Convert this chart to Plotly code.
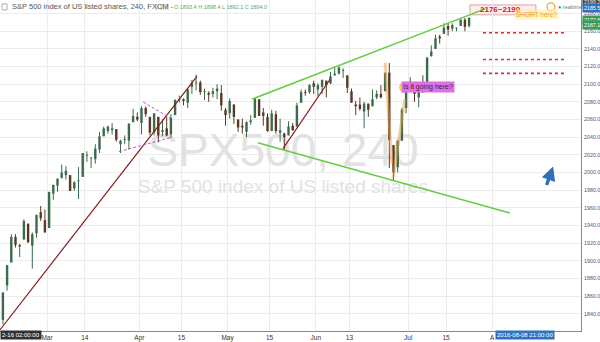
import plotly.graph_objects as go
import pandas as pd

# ---------------- data (daily OHLC) ----------------
dates = ["2016-02-12","2016-02-16","2016-02-17","2016-02-18","2016-02-19","2016-02-22","2016-02-23","2016-02-24","2016-02-25","2016-02-26","2016-02-29",
         "2016-03-01","2016-03-02","2016-03-03","2016-03-04","2016-03-07","2016-03-08","2016-03-09","2016-03-10","2016-03-11",
         "2016-03-14","2016-03-15","2016-03-16","2016-03-17","2016-03-18","2016-03-21","2016-03-22","2016-03-23","2016-03-24",
         "2016-03-28","2016-03-29","2016-03-30","2016-03-31","2016-04-01","2016-04-04","2016-04-05","2016-04-06","2016-04-07","2016-04-08",
         "2016-04-11","2016-04-12","2016-04-13","2016-04-14","2016-04-15","2016-04-18","2016-04-19","2016-04-20","2016-04-21","2016-04-22",
         "2016-04-25","2016-04-26","2016-04-27","2016-04-28","2016-04-29","2016-05-02","2016-05-03","2016-05-04","2016-05-05","2016-05-06",
         "2016-05-09","2016-05-10","2016-05-11","2016-05-12","2016-05-13","2016-05-16","2016-05-17","2016-05-18","2016-05-19","2016-05-20",
         "2016-05-23","2016-05-24","2016-05-25","2016-05-26","2016-05-27","2016-05-31","2016-06-01","2016-06-02","2016-06-03",
         "2016-06-06","2016-06-07","2016-06-08","2016-06-09","2016-06-10","2016-06-13","2016-06-14","2016-06-15","2016-06-16","2016-06-17",
         "2016-06-20","2016-06-21","2016-06-22","2016-06-23","2016-06-24","2016-06-27","2016-06-28","2016-06-29","2016-06-30","2016-07-01",
         "2016-07-05","2016-07-06","2016-07-07","2016-07-08","2016-07-11","2016-07-12","2016-07-13","2016-07-14","2016-07-15",
         "2016-07-18","2016-07-19","2016-07-20","2016-07-21","2016-07-22"]
opens = [1833,1872,1898,1927,1916,1924,1942,1917,1931,1955,1946,
         1937,1976,1985,1994,1997,1997,1982,1990,1995,
         2019,2016,2015,2026,2041,2047,2048,2049,2032,
         2037,2036,2057,2063,2056,2073,2063,2045,2063,2046,
         2050,2043,2065,2082,2083,2079,2097,2101,2102,2091,
         2090,2089,2092,2090,2071,2067,2077,2060,2053,2046,
         2057,2062,2083,2068,2063,2047,2066,2045,2044,2042,
         2053,2052,2079,2091,2091,2101,2094,2097,2104,
         2101,2110,2112,2115,2110,2092,2077,2077,2069,2078,
         2075,2085,2089,2092,2113,2031,2006,2036,2073,2099,
         2097,2085,2100,2102,2132,2140,2154,2157,2166,
         2163,2163,2166,2173,2166]
highs = [1864,1895,1930,1930,1919,1947,1942,1932,1952,1962,1958,
         1978,1986,1993,2009,2007,1997,1990,2006,2022,
         2024,2017,2032,2046,2052,2053,2056,2049,2037,
         2042,2056,2072,2068,2075,2075,2063,2067,2063,2060,
         2063,2066,2083,2087,2084,2095,2105,2111,2104,2095,
         2092,2096,2100,2099,2073,2084,2077,2060,2061,2058,
         2065,2084,2083,2073,2067,2071,2070,2061,2045,2058,
         2056,2079,2094,2094,2100,2104,2101,2105,2104,
         2114,2119,2120,2118,2110,2095,2081,2085,2080,2078,
         2094,2093,2099,2113,2124,2031,2036,2073,2099,2108,
         2097,2100,2110,2131,2144,2156,2156,2169,2169,
         2169,2164,2175,2175,2176]
lows = [1828,1866,1898,1915,1904,1924,1920,1891,1926,1945,1932,
        1937,1969,1978,1993,1992,1979,1979,1970,1995,
        2012,2005,2010,2022,2041,2044,2043,2035,2022,
        2032,2026,2057,2058,2043,2063,2042,2042,2034,2041,
        2041,2039,2065,2079,2076,2073,2089,2093,2088,2082,
        2080,2085,2083,2070,2053,2061,2055,2046,2044,2040,
        2054,2062,2064,2053,2046,2047,2044,2035,2025,2042,
        2047,2052,2079,2087,2089,2089,2086,2089,2085,
        2100,2110,2111,2107,2090,2079,2065,2070,2050,2063,
        2075,2083,2084,2092,2005,1991,2000,2036,2067,2097,
        2080,2074,2090,2100,2131,2140,2146,2157,2155,
        2160,2160,2166,2160,2164]
closes = [1864,1895,1927,1918,1918,1945,1921,1930,1952,1948,1932,
          1978,1986,1993,2000,2002,1979,1989,1990,2022,
          2020,2016,2027,2041,2050,2052,2050,2037,2036,
          2037,2055,2064,2060,2073,2066,2045,2067,2042,2048,
          2042,2062,2082,2083,2081,2094,2101,2102,2091,2092,
          2088,2092,2095,2076,2065,2081,2063,2051,2051,2057,
          2059,2084,2064,2064,2047,2067,2047,2048,2040,2052,
          2048,2076,2091,2090,2099,2097,2099,2105,2099,
          2109,2112,2119,2115,2096,2079,2075,2072,2078,2071,
          2083,2089,2085,2113,2037,2000,2036,2071,2099,2103,
          2089,2100,2098,2130,2137,2152,2152,2164,2162,
          2167,2164,2173,2165,2175]

tick_dates = ["2016-03-01","2016-03-14","2016-04-01","2016-04-15","2016-05-02","2016-05-16",
              "2016-06-01","2016-06-13","2016-07-01","2016-07-15","2016-08-01"]
tick_text = ["Mar","14","Apr","15","May","15","Jun","13","Jul","15","A"]

# trading calendar -> bar position (days from 1 Mar 2016)
holidays = ["2016-02-15","2016-03-25","2016-05-30","2016-07-04"]
cal = [t.strftime("%Y-%m-%d") for t in pd.bdate_range("2016-02-01","2016-09-30")
       if t.strftime("%Y-%m-%d") not in holidays]
origin = cal.index("2016-03-01")
pos = {c: i - origin for i, c in enumerate(cal)}
xs = [pos[t] + 0.5 for t in dates]
tickvals = [pos[t] for t in tick_dates]

# ---------------- layout geometry ----------------
W, H = 600, 342
ML, MR, MT, MB = 0, 19, 0, 8
PW, PH = W - ML - MR, H - MT - MB
PXD = 4.2                        # px per trading day
X0 = -47 / PXD
X1 = (PW - 47) / PXD
Y1 = 2195.4
Y0 = Y1 - PH / 0.8906
FONT = "Liberation Sans, Arial, sans-serif"
UP, DOWN = "#3a6b4c", "#5a3826"

def px(x):
    return (x - ML) / PW

def py(y):
    return 1 - (y - MT) / PH

fig = go.Figure()

# watermark (below candles)
xm = X0 + (X1 - X0) * 283 / PW
fig.add_trace(go.Scatter(x=[xm, xm], y=[Y1 - (Y1 - Y0) * 156 / PH, Y1 - (Y1 - Y0) * 190 / PH],
                         mode="text", text=["SPX500, 240", "S&P 500 index of US listed shares"],
                         textfont=dict(size=[46, 19], color="#e2e2e2", family=FONT),
                         hoverinfo="skip", showlegend=False))

# candles built from thin wick and body segments
for color, is_up in [(UP, True), (DOWN, False)]:
    wx, wy, bx, by = [], [], [], []
    for x, o, h, l, c in zip(xs, opens, highs, lows, closes):
        if (c >= o) != is_up:
            continue
        wx += [x, x, None]
        wy += [l, h, None]
        lo, hi = min(o, c), max(o, c)
        if hi - lo < 1:
            hi = lo + 1
        bx += [x, x, None]
        by += [lo, hi, None]
    fig.add_trace(go.Scatter(x=wx, y=wy, mode="lines", line=dict(color=color, width=1),
                             hoverinfo="skip", showlegend=False))
    fig.add_trace(go.Scatter(x=bx, y=by, mode="lines", line=dict(color=color, width=2.4),
                             hoverinfo="skip", showlegend=False))

shapes = []
def seg(x0, y0, x1, y1, color, width=1.2, dash="solid"):
    shapes.append(dict(type="line", xref="x", yref="y", x0=x0, y0=y0, x1=x1, y1=y1,
                       line=dict(color=color, width=width, dash=dash)))

# drawings (in time / price units)
seg(-11.2, 1821.5, 35.7, 2109.0, "#8b1a1a", 1.2)                 # long support
seg(22.9, 2079.8, 29.3, 2061.8, "#c850c8", 1, "3px,2px")          # triangle top
seg(17.1, 2023.6, 29.3, 2039.3, "#c850c8", 1, "3px,2px")          # triangle bottom
seg(48.8, 2083.1, 104.3, 2185.3, "#66cc44", 1.5)                  # wedge top
seg(50.2, 2033.7, 110.2, 1954.0, "#66cc44", 1.5)                  # wedge bottom
seg(56.2, 2027.0, 67.4, 2105.6, "#8b1a1a", 1.2)                   # May rally line
seg(80.5, 2124.7, 82.1, 2010.1, "rgba(235,160,70,0.5)", 3)        # brexit highlight
seg(82.4, 1993.3, 85.2, 2083.1, "rgba(235,160,70,0.5)", 3)
for lvl in [2158.3, 2128.0, 2112.3]:
    seg(103.8, lvl, 123.8, lvl, "#d03030", 1.6, "dot")

shapes.append(dict(type="rect", xref="x", yref="y", x0=100.7, x1=116.4, y0=2178.6, y1=2189.8,
                   fillcolor="#fdeeee", line=dict(color="#e0a0a0", width=1), layer="below"))
shapes.append(dict(type="circle", xref="x", yref="y", x0=84.0, x1=86.0, y0=2090.9, y1=2102.2,
                   fillcolor="rgba(245,220,60,0.75)", line=dict(color="rgba(230,170,40,0.9)", width=1)))
# orange realtime icon
shapes.append(dict(type="circle", xref="paper", yref="paper", x0=px(547), x1=px(555), y0=py(11), y1=py(3),
                   fillcolor="rgba(0,0,0,0)", line=dict(color="#f0a020", width=1.2)))
# title checkbox
shapes.append(dict(type="rect", xref="paper", yref="paper", x0=px(2), x1=px(7), y0=py(10), y1=py(4),
                   fillcolor="rgba(0,0,0,0)", line=dict(color="#999", width=0.8)))
for i in range(3):
    shapes.append(dict(type="rect", xref="paper", yref="paper", x0=px(155 + i * 5), x1=px(159 + i * 5),
                       y0=py(10), y1=py(4), fillcolor="#e4e4e4", line=dict(width=0)))

ann = []
def txt(x, y, s, size=7, color="#444", xanchor="left", bg=None, bold=False, ref="paper"):
    d = dict(x=x, y=y, xref=ref if ref == "paper" else "x", yref=ref if ref == "paper" else "y",
             text=("<b>%s</b>" % s) if bold else s, showarrow=False, xanchor=xanchor, yanchor="middle",
             font=dict(size=size, color=color, family=FONT), borderpad=1)
    if bg:
        d["bgcolor"] = bg
    ann.append(d)

txt(px(10), py(7), "S&P 500 index of US listed shares, 240, FXCM -", 7.5, "#555")
txt(px(172), py(7), "O 1893.4 H 1898.4 L 1892.1 C 1894.0", 5.5, "#5aa870")
txt(107.9, 2184.2, "2176~2190", 8, "#d02020", "center", bold=True, ref="data")
txt(px(536), py(14.5), "SHORT here?", 6.5, "#f0a020", "center", bg="rgba(255,235,170,0.6)")
txt(90.6, 2096.6, "Is it going here?", 7, "#402040", "center", bg="#e070e0", ref="data")
txt(px(556), py(7.5), "<span style='color:#2a9d8f'>●</span> realtime", 5.5, "#777")
# right price tags
txt(px(582), py(2), "2193.2", 5.3, "#fff", bg="#444")
txt(px(582), py(8), "2185.5", 5.3, "#fff", bg="#2f73c0")
txt(px(582), py(20), "2172.6", 5.3, "#fff", bg="#3b9a5a")
txt(px(582), py(25), "2167.1", 5.3, "#fff", bg="#3b9a5a")
# bottom crosshair labels
txt(px(0), py(338), "2-16 02:00:00", 6, "#fff", bg="#333")
txt(px(495), py(338), "2016-08-08 21:00:00", 6, "#fff", bg="#2f73c0")
# blue arrow
ann.append(dict(x=120.5, y=2006.8, xref="x", yref="y", ax=-7, ay=20, axref="pixel", ayref="pixel",
                showarrow=True, arrowhead=2, arrowsize=0.8, arrowwidth=3.5, arrowcolor="#2f6fc0", text=""))

fig.update_layout(
    width=W, height=H, margin=dict(l=ML, r=MR, t=MT, b=MB),
    paper_bgcolor="white", plot_bgcolor="white",
    shapes=shapes, annotations=ann, showlegend=False,
    xaxis=dict(range=[X0, X1], tickvals=tickvals, ticktext=tick_text, showgrid=True,
               gridcolor="#ececec", gridwidth=1, zeroline=False, showline=True, linecolor="#888",
               tickfont=dict(size=6.5, color="#333", family=FONT), ticks="", ticklen=0, fixedrange=True),
    yaxis=dict(range=[Y0, Y1], side="right", dtick=20, tick0=0, tickformat=".1f", showgrid=True,
               gridcolor="#ececec", zeroline=False, showline=True, linecolor="#888",
               tickfont=dict(size=5.3, color="#555", family=FONT), ticks="", automargin=False,
               ticklabelstandoff=1),
)

fig.write_html("out.html")
